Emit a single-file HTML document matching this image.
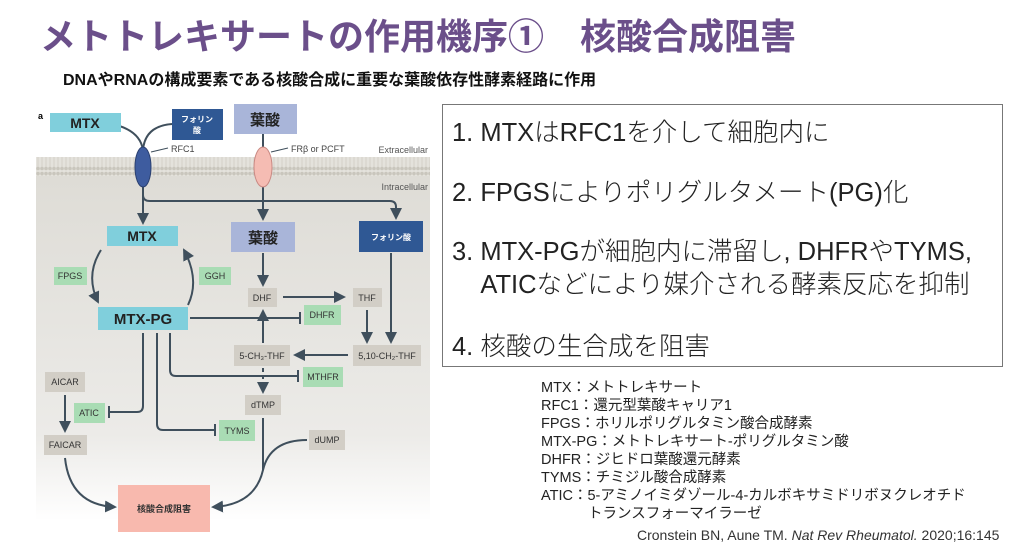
<!DOCTYPE html>
<html><head><meta charset="utf-8"><style>
body{margin:0;width:1024px;height:552px;background:#fff;overflow:hidden;position:relative;font-family:"Liberation Sans","Noto Sans CJK JP",sans-serif}
.t{position:absolute;white-space:nowrap}
#title{left:40px;top:8px;font-size:36px;font-weight:bold;color:#6b4f8a}
#sub{left:63px;top:66px;font-size:16px;font-weight:bold;color:#111}
#box{position:absolute;left:442px;top:104px;width:561px;height:263px;border:1px solid #777;box-sizing:border-box}
.b{position:absolute;left:452px;font-size:25.5px;color:#222;font-family:"Liberation Sans","Noto Sans CJK JP",sans-serif;font-weight:300}
.l{position:absolute;left:541px;font-size:14.5px;color:#222;line-height:15px}
</style></head><body>
<div class="t" id="title">メトトレキサートの作用機序①　核酸合成阻害</div>
<div class="t" id="sub">DNAやRNAの構成要素である核酸合成に重要な葉酸依存性酵素経路に作用</div>
<div id="box"></div>
<div class="t b" style="top:112px">1. MTXはRFC1を介して細胞内に</div>
<div class="t b" style="top:172px">2. FPGSによりポリグルタメート(PG)化</div>
<div class="t b" style="top:231px">3. MTX-PGが細胞内に滞留し, DHFRやTYMS,</div>
<div class="t b" style="top:264px">&nbsp;&nbsp;&nbsp;&nbsp;ATICなどにより媒介される酵素反応を抑制</div>
<div class="t b" style="top:326px">4. 核酸の生合成を阻害</div>
<div class="t l" style="top:381px">MTX：メトトレキサート</div>
<div class="t l" style="top:399px">RFC1：還元型葉酸キャリア1</div>
<div class="t l" style="top:417px">FPGS：ホリルポリグルタミン酸合成酵素</div>
<div class="t l" style="top:435px">MTX-PG：メトトレキサート-ポリグルタミン酸</div>
<div class="t l" style="top:453px">DHFR：ジヒドロ葉酸還元酵素</div>
<div class="t l" style="top:471px">TYMS：チミジル酸合成酵素</div>
<div class="t l" style="top:489px">ATIC：5-アミノイミダゾール-4-カルボキサミドリボヌクレオチド</div>
<div class="t l" style="top:507px;left:588px">トランスフォーマイラーゼ</div>
<div class="t" style="top:527px;left:637px;font-size:14px;color:#333">Cronstein BN, Aune TM. <i>Nat Rev Rheumatol.</i> 2020;16:145</div>

<svg style="position:absolute;left:0;top:0" width="440" height="552" font-family="Liberation Sans,Noto Sans CJK JP,sans-serif">
<defs>
<linearGradient id="g" x1="0" y1="0" x2="0" y2="1"><stop offset="0" stop-color="#dedcd6"/><stop offset="0.75" stop-color="#ecebe8"/><stop offset="1" stop-color="#fff"/></linearGradient>
<pattern id="m" width="4" height="19" patternUnits="userSpaceOnUse"><rect width="4" height="19" fill="#e4e2dc"/><circle cx="2" cy="2.5" r="1.8" fill="#c9c6bd"/><circle cx="2" cy="16.5" r="1.8" fill="#c9c6bd"/><line x1="2" y1="4" x2="2" y2="15" stroke="#cfccc3" stroke-width="0.8"/></pattern>
<marker id="a" markerWidth="6" markerHeight="6" refX="5" refY="3" orient="auto"><path d="M0,0L6,3L0,6z" fill="#3f4f5c"/></marker>
</defs>
<rect x="36" y="176" width="394" height="345" fill="url(#g)"/>
<rect x="36" y="157" width="394" height="19" fill="url(#m)"/>
<text x="38" y="119" font-size="9" font-weight="bold">a</text>
<g stroke="#3f4f5c" stroke-width="2" fill="none">
<path d="M112,124 Q140,130 143,150"/><path d="M172,124 Q145,126 143,150"/>
<line x1="263" y1="134" x2="263" y2="150"/>
<line x1="151" y1="152" x2="168" y2="148" stroke-width="1"/>
<line x1="271" y1="152" x2="288" y2="148" stroke-width="1"/>
<line x1="143" y1="187" x2="143" y2="223" marker-end="url(#a)"/>
<path d="M143,195 Q143,201 150,201 L390,201 Q396,201 396,207 L396,218" marker-end="url(#a)"/>
<line x1="263" y1="187" x2="263" y2="219" marker-end="url(#a)"/>
<line x1="263" y1="253" x2="263" y2="285" marker-end="url(#a)"/>
<path d="M101,250 Q85,275 98,302" marker-end="url(#a)"/>
<path d="M188,305 Q200,280 184,250" marker-end="url(#a)"/>
<line x1="283" y1="297" x2="344" y2="297" marker-end="url(#a)"/>
<line x1="190" y1="318" x2="299" y2="318"/><line x1="300" y1="312" x2="300" y2="324"/>
<line x1="367" y1="310" x2="367" y2="342" marker-end="url(#a)"/>
<line x1="391" y1="253" x2="391" y2="342" marker-end="url(#a)"/>
<line x1="348" y1="355" x2="295" y2="355" marker-end="url(#a)"/>
<line x1="263" y1="343" x2="263" y2="311" marker-end="url(#a)"/>
<line x1="263" y1="368" x2="263" y2="392" stroke-dasharray="4,3" marker-end="url(#a)"/>
<path d="M170,333 L170,370 Q170,376 176,376 L297,376"/><line x1="298" y1="370" x2="298" y2="382"/>
<path d="M143,333 L143,406 Q143,412 137,412 L110,412"/><line x1="109" y1="406" x2="109" y2="418"/>
<path d="M157,333 L157,424 Q157,430 163,430 L214,430"/><line x1="215" y1="424" x2="215" y2="436"/>
<line x1="65" y1="395" x2="65" y2="431" marker-end="url(#a)"/>
<path d="M65,458 Q70,505 115,507" marker-end="url(#a)"/>
<path d="M263,418 L263,470"/>
<path d="M307,440 Q270,440 263,470 Q255,505 213,507" marker-end="url(#a)"/>
</g>
<ellipse cx="143" cy="167" rx="8" ry="20" fill="#3e5c9f" stroke="#2b4070"/>
<ellipse cx="263" cy="167" rx="9" ry="20" fill="#f5bcb3" stroke="#c98a84"/>
<text x="171" y="152" font-size="9" fill="#444">RFC1</text>
<text x="291" y="152" font-size="9" fill="#444">FRβ or PCFT</text>
<text x="428" y="153" font-size="9" fill="#555" text-anchor="end">Extracellular</text>
<text x="428" y="190" font-size="9" fill="#555" text-anchor="end">Intracellular</text>
<g font-weight="bold" text-anchor="middle">
<rect x="50" y="113" width="71" height="19" fill="#80cfdc"/><text x="85" y="128" font-size="14" fill="#222">MTX</text>
<rect x="172" y="109" width="51" height="31" fill="#2f5894"/><text x="197" y="122" font-size="8" fill="#fff">フォリン</text><text x="197" y="133" font-size="8" fill="#fff">酸</text>
<rect x="234" y="104" width="63" height="30" fill="#a9b5d9"/><text x="265" y="125" font-size="15" fill="#222">葉酸</text>
<rect x="107" y="226" width="71" height="20" fill="#80cfdc"/><text x="142" y="241" font-size="14" fill="#222">MTX</text>
<rect x="231" y="222" width="64" height="30" fill="#a9b5d9"/><text x="263" y="243" font-size="15" fill="#222">葉酸</text>
<rect x="359" y="221" width="64" height="31" fill="#2f5894"/><text x="391" y="240" font-size="8" fill="#fff">フォリン酸</text>
<rect x="98" y="307" width="90" height="23" fill="#80cfdc"/><text x="143" y="324" font-size="15" fill="#222">MTX-PG</text>
<rect x="118" y="485" width="92" height="47" fill="#f8b9ae"/><text x="164" y="512" font-size="9" fill="#333">核酸合成阻害</text>
</g>
<g font-size="9" fill="#333" text-anchor="middle">
<rect x="54" y="267" width="33" height="18" fill="#a9dcb4"/><text x="70" y="279">FPGS</text>
<rect x="199" y="267" width="32" height="18" fill="#a9dcb4"/><text x="215" y="279">GGH</text>
<rect x="248" y="288" width="29" height="19" fill="#d2cec6"/><text x="262" y="301">DHF</text>
<rect x="353" y="288" width="29" height="19" fill="#d2cec6"/><text x="367" y="301">THF</text>
<rect x="304" y="305" width="37" height="20" fill="#a9dcb4"/><text x="322" y="318">DHFR</text>
<rect x="234" y="345" width="56" height="21" fill="#d2cec6"/><text x="262" y="359">5-CH₃-THF</text>
<rect x="353" y="345" width="68" height="21" fill="#d2cec6"/><text x="387" y="359">5,10-CH₂-THF</text>
<rect x="303" y="367" width="40" height="20" fill="#a9dcb4"/><text x="323" y="380">MTHFR</text>
<rect x="245" y="395" width="36" height="20" fill="#d2cec6"/><text x="263" y="408">dTMP</text>
<rect x="45" y="372" width="40" height="20" fill="#d2cec6"/><text x="65" y="385">AICAR</text>
<rect x="44" y="435" width="43" height="20" fill="#d2cec6"/><text x="65" y="448">FAICAR</text>
<rect x="74" y="403" width="31" height="20" fill="#a9dcb4"/><text x="89" y="416">ATIC</text>
<rect x="219" y="420" width="36" height="21" fill="#a9dcb4"/><text x="237" y="434">TYMS</text>
<rect x="309" y="430" width="36" height="20" fill="#d2cec6"/><text x="327" y="443">dUMP</text>
</g>
</svg>
</body></html>
